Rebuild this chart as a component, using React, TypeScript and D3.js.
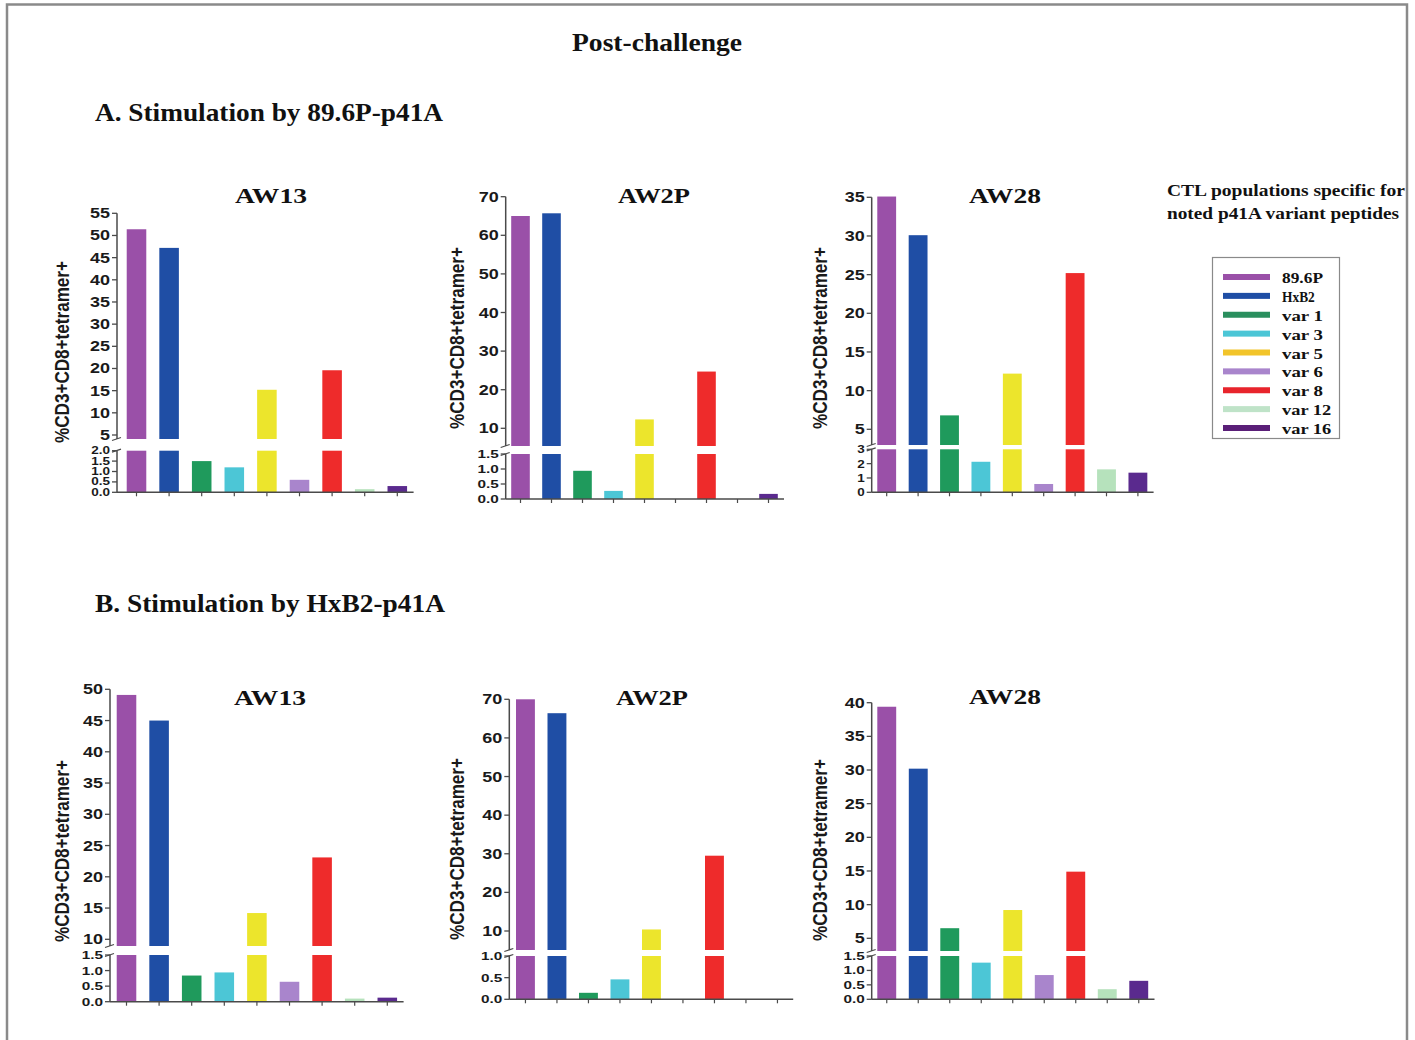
import React from "react";
import * as d3 from "d3";

// ---------- DATA ----------
const categories = ["89.6P", "HxB2", "var 1", "var 3", "var 5", "var 6", "var 8", "var 12", "var 16"];
const colors = ["#9a50a8", "#1f4ea5", "#1f9a5c", "#4cc6d6", "#ece52c", "#a985cc", "#ee2b2b", "#b6e2bc", "#5a2a8e"];
const legendColors = ["#9a50a8", "#1f4ea5", "#2a8f5e", "#4cc6d6", "#f2c42a", "#a985cc", "#e8242c", "#bfe3c8", "#5a1f78"];

const valuesA_AW13 = [51.4, 47.2, 1.5, 1.2, 15.2, 0.6, 19.6, 0.15, 0.3];
const valuesA_AW2P = [65.0, 65.7, 0.94, 0.27, 12.3, 0, 24.7, 0, 0.17];
const valuesA_AW28 = [35.1, 30.1, 6.8, 2.13, 12.2, 0.58, 25.2, 1.6, 1.37];
const valuesB_AW13 = [49.1, 45.0, 0.84, 0.94, 14.2, 0.64, 23.1, 0.1, 0.13];
const valuesB_AW2P = [70.0, 66.4, 0.15, 0.46, 10.4, 0, 29.5, 0, 0];
const valuesB_AW28 = [39.4, 30.2, 6.5, 1.27, 9.2, 0.84, 14.9, 0.35, 0.64];

const upperTicksA_AW13 = [5, 10, 15, 20, 25, 30, 35, 40, 45, 50, 55];
const lowerTicksA_AW13 = [0, 0.5, 1.0, 1.5, 2.0];
const upperTicksA_AW2P = [10, 20, 30, 40, 50, 60, 70];
const lowerTicksA_AW2P = [0, 0.5, 1.0, 1.5];
const upperTicksA_AW28 = [5, 10, 15, 20, 25, 30, 35];
const lowerTicksA_AW28 = [0, 1, 2, 3];
const upperTicksB_AW13 = [10, 15, 20, 25, 30, 35, 40, 45, 50];
const lowerTicksB_AW13 = [0, 0.5, 1.0, 1.5];
const upperTicksB_AW2P = [10, 20, 30, 40, 50, 60, 70];
const lowerTicksB_AW2P = [0, 0.5, 1.0];
const upperTicksB_AW28 = [5, 10, 15, 20, 25, 30, 35, 40];
const lowerTicksB_AW28 = [0, 0.5, 1.0, 1.5];

const mainTitle = "Post-challenge";
const sectionTitles = ["A. Stimulation by 89.6P-p41A", "B. Stimulation by HxB2-p41A"];
const legendTitle = ["CTL populations specific for", "noted p41A variant peptides"];
const yLabel = "%CD3+CD8+tetramer+";

// ---------- LAYOUT ----------
type Panel = {
  title: string;
  values: number[];
  upperTicks: number[];
  lowerTicks: number[];
  lowerFmt: string;
  uRange: [number, number];
  segBottom: number;
  lRange: [number, number];
  axisX: number;
  bandX0: number;
  step: number;
  titleX: number;
  titleY: number;
  labelX: number;
  labelY: number;
  lowerFont: number;
  lowerDigitW: number;
};

const panels: Panel[] = [
  {
    title: "AW13", values: valuesA_AW13, upperTicks: upperTicksA_AW13, lowerTicks: lowerTicksA_AW13, lowerFmt: ".1f",
    uRange: [435, 213.3], segBottom: 439, lRange: [492.3, 450.7], axisX: 117, bandX0: 120.2, step: 32.6,
    titleX: 271, titleY: 203, labelX: 64, labelY: 352, lowerFont: 10, lowerDigitW: 7.5,
  },
  {
    title: "AW2P", values: valuesA_AW2P, upperTicks: upperTicksA_AW2P, lowerTicks: lowerTicksA_AW2P, lowerFmt: ".1f",
    uRange: [428.3, 196.7], segBottom: 446, lRange: [499, 454], axisX: 505.7, bandX0: 505, step: 31,
    titleX: 654, titleY: 203, labelX: 459, labelY: 338, lowerFont: 11, lowerDigitW: 8.5,
  },
  {
    title: "AW28", values: valuesA_AW28, upperTicks: upperTicksA_AW28, lowerTicks: lowerTicksA_AW28, lowerFmt: "d",
    uRange: [429.3, 197.3], segBottom: 445, lRange: [492.3, 449.3], axisX: 871.7, bandX0: 871, step: 31.4,
    titleX: 1005, titleY: 203, labelX: 822, labelY: 338, lowerFont: 11.5, lowerDigitW: 7.5,
  },
  {
    title: "AW13", values: valuesB_AW13, upperTicks: upperTicksB_AW13, lowerTicks: lowerTicksB_AW13, lowerFmt: ".1f",
    uRange: [939.3, 689.3], segBottom: 946, lRange: [1001.7, 955], axisX: 110, bandX0: 110.2, step: 32.6,
    titleX: 270, titleY: 705, labelX: 64, labelY: 851, lowerFont: 11, lowerDigitW: 8.5,
  },
  {
    title: "AW2P", values: valuesB_AW2P, upperTicks: upperTicksB_AW2P, lowerTicks: lowerTicksB_AW2P, lowerFmt: ".1f",
    uRange: [931, 699.3], segBottom: 950, lRange: [999.3, 956], axisX: 509.3, bandX0: 509.7, step: 31.5,
    titleX: 652, titleY: 705, labelX: 459, labelY: 849, lowerFont: 11, lowerDigitW: 8.5,
  },
  {
    title: "AW28", values: valuesB_AW28, upperTicks: upperTicksB_AW28, lowerTicks: lowerTicksB_AW28, lowerFmt: ".1f",
    uRange: [938.3, 702.7], segBottom: 951, lRange: [999.3, 956], axisX: 871.7, bandX0: 871, step: 31.5,
    titleX: 1005, titleY: 704, labelX: 822, labelY: 850, lowerFont: 11, lowerDigitW: 8.5,
  },
];

const SANS = "'Liberation Sans', Arial, sans-serif";
const SERIF = "'Liberation Serif', 'Times New Roman', serif";
const AXIS = "#4a4a4a";

function labelWidth(s: string, digitW: number) {
  let w = 0;
  for (const c of s) w += c === "." ? digitW * 0.5 : digitW;
  return w;
}

function ChartPanel({ p }: { p: Panel }) {
  const x = d3
    .scaleBand<string>()
    .domain(categories)
    .range([p.bandX0, p.bandX0 + p.step * 9])
    .paddingInner(0.4)
    .paddingOuter(0.2);
  const uMin = p.upperTicks[0];
  const uMax = p.upperTicks[p.upperTicks.length - 1];
  const yU = d3.scaleLinear().domain([uMin, uMax]).range(p.uRange);
  const lMax = p.lowerTicks[p.lowerTicks.length - 1];
  const yL = d3.scaleLinear().domain([0, lMax]).range(p.lRange);
  const fmt = d3.format(p.lowerFmt);
  const xEnd = p.bandX0 + p.step * 9;
  const uTop = yU(uMax);
  const lTop = yL(lMax);
  const zero = yL(0);

  return (
    <g>
      <text
        x={p.titleX}
        y={p.titleY}
        textAnchor="middle"
        fontFamily={SERIF}
        fontWeight="bold"
        fontSize={22}
        textLength={72}
        lengthAdjust="spacingAndGlyphs"
        fill="#111"
      >
        {p.title}
      </text>
      <text
        transform={`translate(${p.labelX},${p.labelY}) scale(1.25,1) rotate(-90)`}
        textAnchor="middle"
        dominantBaseline="middle"
        fontFamily={SANS}
        fontWeight="bold"
        fontSize={16.5}
        textLength={182}
        lengthAdjust="spacingAndGlyphs"
        fill="#1a1a1a"
      >
        {yLabel}
      </text>
      {p.values.map((v, i) => {
        const c = categories[i];
        const bx = x(c)!;
        const bw = x.bandwidth();
        if (v <= 0) return null;
        const lowerTopY = yL(Math.min(v, lMax));
        return (
          <g key={c}>
            <rect x={bx} y={lowerTopY} width={bw} height={zero - lowerTopY} fill={colors[i]} />
            {v > lMax && (
              <rect x={bx} y={yU(v)} width={bw} height={p.segBottom - yU(v)} fill={colors[i]} />
            )}
          </g>
        );
      })}
      <line x1={p.axisX} x2={p.axisX} y1={p.segBottom} y2={uTop} stroke={AXIS} strokeWidth={1.5} />
      {p.upperTicks.map((t) => (
        <g key={"u" + t}>
          <line x1={p.axisX - 5} x2={p.axisX} y1={yU(t)} y2={yU(t)} stroke={AXIS} strokeWidth={1.3} />
          <text
            x={p.axisX - 7}
            y={yU(t)}
            textAnchor="end"
            dominantBaseline="central"
            fontFamily={SANS}
            fontWeight="bold"
            fontSize={14}
            textLength={labelWidth(String(t), 10)}
            lengthAdjust="spacingAndGlyphs"
            fill="#1a1a1a"
          >
            {t}
          </text>
        </g>
      ))}
      <line x1={p.axisX - 5} x2={p.axisX + 4} y1={p.segBottom + 1.5} y2={p.segBottom - 1.5} stroke={AXIS} strokeWidth={1.3} />
      <line x1={p.axisX - 5} x2={p.axisX + 4} y1={lTop + 1.5} y2={lTop - 1.5} stroke={AXIS} strokeWidth={1.3} />
      <line x1={p.axisX} x2={p.axisX} y1={zero} y2={lTop} stroke={AXIS} strokeWidth={1.5} />
      {p.lowerTicks.map((t) => (
        <g key={"l" + t}>
          <line x1={p.axisX - 5} x2={p.axisX} y1={yL(t)} y2={yL(t)} stroke={AXIS} strokeWidth={1.3} />
          <text
            x={p.axisX - 7}
            y={yL(t)}
            textAnchor="end"
            dominantBaseline="central"
            fontFamily={SANS}
            fontWeight="bold"
            fontSize={p.lowerFont}
            textLength={labelWidth(fmt(t), p.lowerDigitW)}
            lengthAdjust="spacingAndGlyphs"
            fill="#1a1a1a"
          >
            {fmt(t)}
          </text>
        </g>
      ))}
      <line x1={p.axisX} x2={xEnd} y1={zero} y2={zero} stroke={AXIS} strokeWidth={1.5} />
      {categories.map((c) => (
        <line
          key={"x" + c}
          x1={x(c)! + x.bandwidth() / 2}
          x2={x(c)! + x.bandwidth() / 2}
          y1={zero}
          y2={zero + 4}
          stroke={AXIS}
          strokeWidth={1.2}
        />
      ))}
    </g>
  );
}

function Legend() {
  const ly = d3.scalePoint<string>().domain(categories).range([277, 428]);
  return (
    <g>
      <text x={1167} y={196} fontFamily={SERIF} fontWeight="bold" fontSize={17} textLength={238} lengthAdjust="spacingAndGlyphs" fill="#111">
        {legendTitle[0]}
      </text>
      <text x={1167} y={219} fontFamily={SERIF} fontWeight="bold" fontSize={17} textLength={232} lengthAdjust="spacingAndGlyphs" fill="#111">
        {legendTitle[1]}
      </text>
      <rect x={1212.5} y={257.5} width={127} height={181} fill="#fff" stroke="#8a8a8a" strokeWidth={1.2} />
      {categories.map((c, i) => (
        <g key={c}>
          <rect x={1223} y={ly(c)! - 3} width={47} height={6} fill={legendColors[i]} />
          <text
            x={1282}
            y={ly(c)! + 6}
            fontFamily={SERIF}
            fontWeight="bold"
            fontSize={15}
            textLength={c.length * 8.2}
            lengthAdjust="spacingAndGlyphs"
            fill="#111"
          >
            {c}
          </text>
        </g>
      ))}
    </g>
  );
}

export default function App() {
  return (
    <svg
      width={1415}
      height={1040}
      viewBox="0 0 1415 1040"
      style={{ position: "absolute", left: 0, top: 0, background: "#fff" }}
    >
      <rect x={0} y={0} width={1415} height={1040} fill="#fff" />
      <path d="M7,1040 V4.5 H1407 V1040" fill="none" stroke="#8a8a8a" strokeWidth={2.5} />
      <text x={657} y={51} textAnchor="middle" fontFamily={SERIF} fontWeight="bold" fontSize={25} textLength={170} lengthAdjust="spacingAndGlyphs" fill="#111">
        {mainTitle}
      </text>
      <text x={95} y={121} fontFamily={SERIF} fontWeight="bold" fontSize={25} textLength={348} lengthAdjust="spacingAndGlyphs" fill="#111">
        {sectionTitles[0]}
      </text>
      <text x={95} y={612} fontFamily={SERIF} fontWeight="bold" fontSize={25} textLength={350} lengthAdjust="spacingAndGlyphs" fill="#111">
        {sectionTitles[1]}
      </text>
      {panels.map((p, i) => (
        <ChartPanel key={i} p={p} />
      ))}
      <Legend />
    </svg>
  );
}
